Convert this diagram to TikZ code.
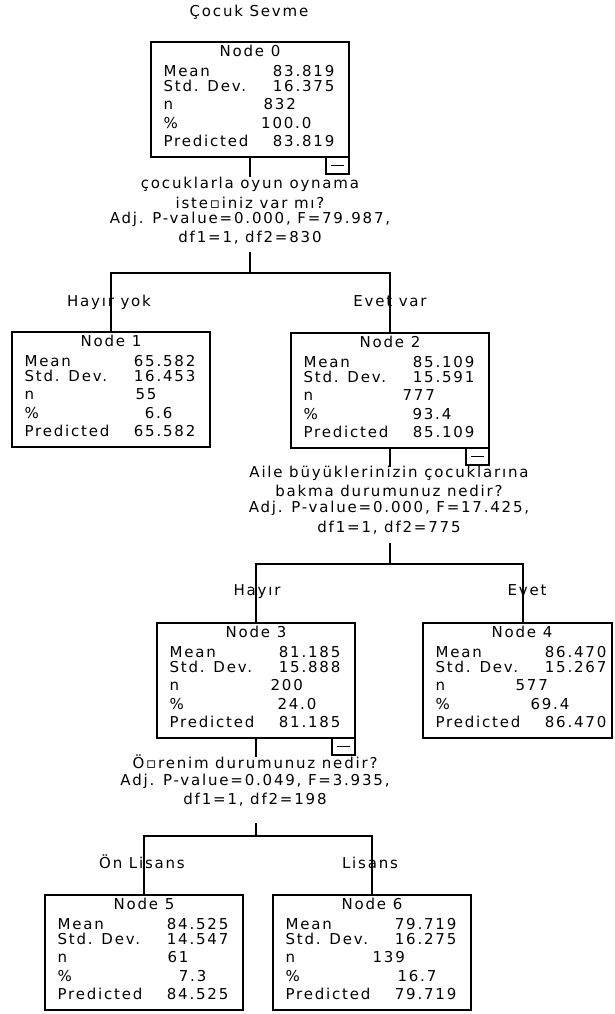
\documentclass[tikz,border=0pt]{standalone}
\usepackage{fontspec}
\setmainfont{DejaVu Sans}[LetterSpace=12]
\newcommand\fs{\fontsize{15}{17}\selectfont}
\newcommand\bw{198}
\newcommand\nx{112}
\newcommand\px{161}
\newcommand\statbox[9]{%
  \node[box, minimum width=\bw, anchor=north west] (#1) at (#2,#3) {};
  \node[txt, anchor=mid] (#1-h) at ({#2+99},{#3+12}) {Node #4};
  \node[txt, anchor=mid west] (#1-a) at ({#2+12},{#3+32}) {Mean};
  \node[txt, anchor=mid east] (#1-av) at ({#2+184},{#3+32}) {#5};
  \node[txt, anchor=mid west] (#1-b) at ({#2+12},{#3+47}) {Std. Dev.};
  \node[txt, anchor=mid east] (#1-bv) at ({#2+184},{#3+47}) {#6};
  \node[txt, anchor=mid west] (#1-c) at ({#2+12},{#3+65}) {n};
  \node[txt, anchor=mid west] (#1-cv) at ({#2+\nx},{#3+65}) {#7};
  \node[txt, anchor=mid west] (#1-d) at ({#2+12},{#3+84}) {\%};
  \node[txt, anchor=mid east] (#1-dv) at ({#2+\px},{#3+84}) {#8};
  \node[txt, anchor=mid west] (#1-e) at ({#2+12},{#3+102}) {Predicted};
  \node[txt, anchor=mid east] (#1-ev) at ({#2+184},{#3+102}) {#9};
}
\newcommand\minusbox[3]{%
  \node[minusframe, anchor=north west] (#1) at (#2,#3) {};
  \draw ([xshift=5]#1.center -| #1.west) -- ([xshift=-5]#1.center -| #1.east);
}
\begin{document}
\begin{tikzpicture}[x=1pt,y=-1pt,line width=1.3pt,
  box/.style={draw, rectangle, minimum height=115, inner sep=0, outer sep=0},
  minusframe/.style={draw, rectangle, minimum width=23, minimum height=17, inner sep=0, outer sep=0},
  txt/.style={inner sep=0, font=\fs}]
\useasboundingbox (0,0) rectangle (614,1014);

\node[txt, anchor=mid] (title) at (249,14) {Çocuk Sevme};

% boxes
\renewcommand\nx{112}\renewcommand\px{161}
\statbox{n0}{151}{42}{0}{83.819}{16.375}{832}{100.0}{83.819}
\renewcommand\nx{123}\renewcommand\px{161}
\statbox{n1}{12}{332}{1}{65.582}{16.453}{55}{6.6}{65.582}
\renewcommand\nx{111}\renewcommand\px{161}
\statbox{n2}{291}{333}{2}{85.109}{15.591}{777}{93.4}{85.109}
\renewcommand\nx{113}\renewcommand\px{160}
\statbox{n3}{157}{623}{3}{81.185}{15.888}{200}{24.0}{81.185}
\renewcommand\nx{92}\renewcommand\px{147}\renewcommand\bw{189}
\statbox{n4}{423}{623}{4}{86.470}{15.267}{577}{69.4}{86.470}
\renewcommand\nx{122}\renewcommand\px{162}\renewcommand\bw{198}
\statbox{n5}{45}{895}{5}{84.525}{14.547}{61}{7.3}{84.525}
\renewcommand\nx{99}\renewcommand\px{164}
\statbox{n6}{273}{895}{6}{79.719}{16.275}{139}{16.7}{79.719}

\minusbox{m0}{326}{157}
\minusbox{m2}{466}{448}
\minusbox{m3}{332}{738}

% split 1
\coordinate (a0) at (250,177);
\coordinate (b0) at (250,252);
\coordinate (j0) at (250,273);
\draw (n0.south) -- (a0);
\node[txt, anchor=mid] (s0a) at (250,186) {çocuklarla oyun oynama};
\node[txt, anchor=mid] (s0b) at (250,206) {iste▫iniz var mı?};
\node[txt, anchor=mid] (s0c) at (250,221) {Adj. P-value=0.000, F=79.987,};
\node[txt, anchor=mid] (s0d) at (250,240) {df1=1, df2=830};
\draw (b0) -- (j0);
\draw (n1.north) |- (j0) -| (n2.north);
\node[txt, anchor=mid] (l1) at (109,304) {Hayır yok};
\node[txt, anchor=mid] (l2) at (390,304) {Evet var};

% split 2
\coordinate (a1) at (390,467);
\coordinate (b1) at (390,543);
\coordinate (j1) at (390,564);
\coordinate (c4) at (523,623);
\draw (n2.south) -- (a1);
\node[txt, anchor=mid] (s1a) at (389,475) {Aile büyüklerinizin çocuklarına};
\node[txt, anchor=mid] (s1b) at (389,494) {bakma durumunuz nedir?};
\node[txt, anchor=mid] (s1c) at (389,510) {Adj. P-value=0.000, F=17.425,};
\node[txt, anchor=mid] (s1d) at (389,530) {df1=1, df2=775};
\draw (b1) -- (j1);
\draw (n3.north) |- (j1) -| (c4);
\node[txt, anchor=mid] (l3) at (257,593) {Hayır};
\node[txt, anchor=mid] (l4) at (527,593) {Evet};

% split 3
\coordinate (a2) at (256,757);
\coordinate (b2) at (256,823);
\coordinate (j2) at (256,836);
\draw (n3.south) -- (a2);
\node[txt, anchor=mid] (s2a) at (255,766) {Ö▫renim durumunuz nedir?};
\node[txt, anchor=mid] (s2b) at (255,783) {Adj. P-value=0.049, F=3.935,};
\node[txt, anchor=mid] (s2c) at (255,802) {df1=1, df2=198};
\draw (b2) -- (j2);
\draw (n5.north) |- (j2) -| (n6.north);
\node[txt, anchor=mid] (l5) at (142,866) {Ön Lisans};
\node[txt, anchor=mid] (l6) at (370,866) {Lisans};
\end{tikzpicture}
\end{document}
